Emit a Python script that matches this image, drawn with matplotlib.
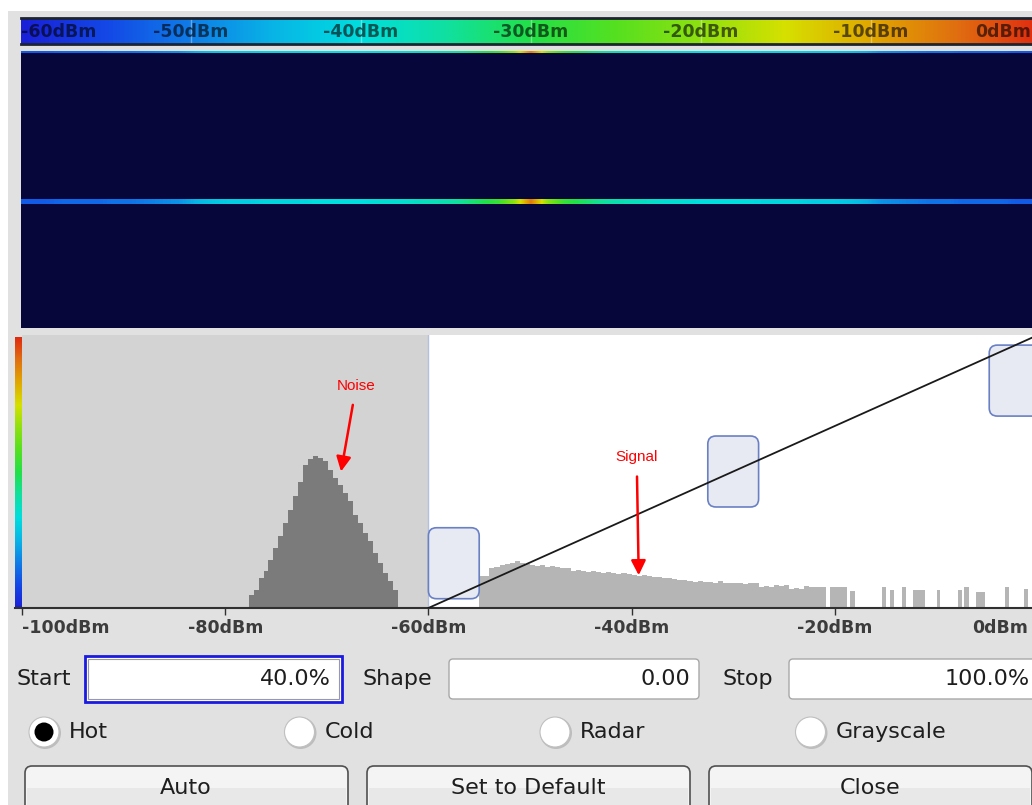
import matplotlib.pyplot as plt
import numpy as np
from matplotlib.colors import LinearSegmentedColormap
from matplotlib.patches import Rectangle, FancyBboxPatch, Circle
from matplotlib.transforms import ScaledTranslation

plt.rcParams['font.family'] = ['DejaVu Sans']

W, H = 1032, 805

# level scale of the colour bar (dBm)
bar_ticks = [-60, -50, -40, -30, -20, -10, 0]
bar_labels = ['-60dBm', '-50dBm', '-40dBm', '-30dBm', '-20dBm', '-10dBm', '0dBm']

# spectrum trace across the span (dBm), written into the spectrogram
trace_dbm = [-53, -53, -52, -52, -52, -51, -51, -50, -49, -48,
             -45, -43, -42, -42, -41, -41, -41, -40, -40, -40,
             -40, -39, -39, -38, -37, -36, -34, -31, -28, -20,
             -6,
             -20, -28, -31, -34, -36, -37, -38, -39, -39, -40,
             -40, -40, -40, -41, -41, -41, -42, -42, -43, -45,
             -48, -49, -50, -51, -51, -52, -52, -52, -53, -53]
trace_rows = [0, 37.5]
n_rows = 69

# level histogram (% of max hits)
noise_start, noise_bin = -77.7, 0.49
noise_hits = [4.8, 6.6, 11.0, 13.6, 17.6, 22.1, 26.5, 31.3, 36.0, 41.2,
              46.0, 52.2, 54.4, 55.5, 55.1, 54.0, 50.7, 47.8, 45.2, 42.3,
              39.3, 34.2, 31.3, 27.6, 24.6, 20.2, 16.5, 12.9, 9.9, 6.6]

signal_start, signal_bin = -55.0, 0.5
signal_hits = [11.8, 11.8, 14.7, 15.1, 15.8, 16.2, 16.5, 17.3, 16.5, 16.2,
               15.8, 15.4, 15.8, 15.1, 15.4, 15.1, 14.7, 14.7, 13.6, 14.0,
               13.6, 13.2, 13.6, 13.2, 12.9, 13.2, 12.9, 12.5, 12.9, 12.5,
               12.1, 11.8, 12.1, 11.8, 11.4, 11.4, 11.0, 11.0, 10.7, 10.3,
               10.3, 9.9, 9.6, 9.9, 9.6, 9.6, 9.2, 9.9, 9.2, 9.2,
               9.2, 9.2, 8.8, 9.2, 9.2, 7.7, 8.1, 7.7, 8.5, 8.1,
               8.5, 7.0, 7.4, 7.0, 8.1]
sparse_lo = [-22.5, -20.5, -18.5, -15.4, -14.6, -13.4, -12.3, -9.9, -7.9, -7.3, -6.1, -3.2, -1.4]
sparse_hi = [-20.9, -18.8, -18.0, -15.0, -14.2, -13.0, -11.1, -9.6, -7.5, -6.8, -5.2, -2.9, -1.0]
sparse_hits = [7.7, 7.7, 6.3, 7.7, 6.6, 7.7, 6.6, 6.6, 6.6, 7.7, 5.9, 7.7, 7.0]

hist_ticks = [-100, -80, -60, -40, -20, 0]
hist_labels = ['-100dBm', '-80dBm', '-60dBm', '-40dBm', '-20dBm', '0dBm']

start_pct, shape_val, stop_pct = 40.0, 0.00, 100.0
schemes = ['Hot', 'Cold', 'Radar', 'Grayscale']
active_scheme = 'Hot'
buttons = ['Auto', 'Set to Default', 'Close']

hot = LinearSegmentedColormap.from_list('rs_hot', [
    '#1a20d8', '#1448e6', '#0f7ee8', '#08b6e6', '#00dede', '#10e0a0',
    '#22e048', '#55e020', '#8ee010', '#d6e000', '#e0a800', '#e07010', '#e02a10'])

fig = plt.figure(figsize=(W / 100, H / 100), dpi=100)
fig.patch.set_facecolor('white')
shift_left = ScaledTranslation(-10 / 100, 0, fig.dpi_scale_trans)


def px_ax(x0, y0, x1, y1):
    return fig.add_axes([x0 / W, 1 - y1 / H, (x1 - x0) / W, (y1 - y0) / H])


# ---- dialog background and widgets ----
ui = px_ax(0, 0, W, H)
ui.set_xlim(0, W)
ui.set_ylim(H, 0)
ui.axis('off')
ui.add_patch(Rectangle((8, 11), W, H, facecolor='#e1e1e1', edgecolor='none'))

txt = dict(fontsize=16, color='#1e1e1e', va='center')
ui.text(16, 679, 'Start', ha='left', **txt)
ui.add_patch(Rectangle((85, 656), 257, 46, facecolor='white', edgecolor='#1a1ae0', lw=2))
ui.add_patch(Rectangle((88, 659), 251, 40, facecolor='none', edgecolor='#9a9a9a', lw=0.8))
ui.text(331, 679, f'{start_pct:.1f}%', ha='right', **txt)

ui.text(363, 679, 'Shape', ha='left', **txt)
ui.add_patch(FancyBboxPatch((449, 659), 250, 40, boxstyle='round,pad=0,rounding_size=4',
                            facecolor='white', edgecolor='#a8a8a8', lw=1))
ui.text(690, 679, f'{shape_val:.2f}', ha='right', **txt)

ui.text(723, 679, 'Stop', ha='left', **txt)
ui.add_patch(FancyBboxPatch((789, 659), 260, 40, boxstyle='round,pad=0,rounding_size=4',
                            facecolor='white', edgecolor='#a8a8a8', lw=1))
ui.text(1030, 679, f'{stop_pct:.1f}%', ha='right', **txt)

for i, name in enumerate(schemes):
    cx = 44 + i * 255.5
    ui.add_patch(Circle((cx + 1, 733), 16, facecolor='#bdbdbd', edgecolor='none'))
    ui.add_patch(Circle((cx, 732), 15, facecolor='white', edgecolor='#c0c0c0', lw=0.8))
    if name == active_scheme:
        ui.add_patch(Circle((cx, 732), 9.5, facecolor='black', edgecolor='none'))
    ui.text(cx + 25, 732, name, ha='left', **txt)

for i, name in enumerate(buttons):
    x0 = 25 + i * 342
    ui.add_patch(FancyBboxPatch((x0, 766), 323, 60, boxstyle='round,pad=0,rounding_size=7',
                                facecolor='#f4f4f4', edgecolor='#505050', lw=1.2))
    ui.add_patch(Rectangle((x0 + 2, 788), 319, 22, facecolor='#e8e8e8', edgecolor='none'))
    ui.text(x0 + 161, 788, name, ha='center', **txt)

# ---- colour bar on top ----
ax_bar = px_ax(21, 18, 1041, 44)
ax_bar.imshow(np.linspace(-60, 0, 512)[None, :], cmap=hot, aspect='auto',
              extent=[-60, 0, 0, 1], vmin=-60, vmax=0)
ax_bar.set_xlim(-60, 0)
ax_bar.set_ylim(0, 1)
ax_bar.set_xticks([])
ax_bar.set_yticks([])
for s in ['left', 'right']:
    ax_bar.spines[s].set_visible(False)
for s in ['top', 'bottom']:
    ax_bar.spines[s].set_color('#1c2430')
    ax_bar.spines[s].set_linewidth(2)
for t, lab in zip(bar_ticks, bar_labels):
    if t not in (bar_ticks[0], bar_ticks[-1]):
        ax_bar.axvline(t, color='white', alpha=0.35, lw=1)
    ha = 'left' if t == bar_ticks[0] else ('right' if t == bar_ticks[-1] else 'center')
    tx = ax_bar.text(t, 0.45, lab, ha=ha, va='center', fontsize=12.5, fontweight='bold',
                     color='black', alpha=0.6)
    if t == bar_ticks[-1]:
        tx.set_transform(tx.get_transform() + shift_left)

# ---- spectrogram ----
ax_spec = px_ax(21, 51, 1041, 328)
ax_spec.set_facecolor('#06063a')
for r in trace_rows:
    ax_spec.imshow(np.array(trace_dbm)[None, :], cmap=hot, vmin=-60, vmax=0,
                   aspect='auto', interpolation='bilinear',
                   extent=[-0.5, len(trace_dbm) - 0.5, r + 0.5, r - 0.5])
ax_spec.set_xlim(-0.5, len(trace_dbm) - 0.5)
ax_spec.set_ylim(n_rows, 0)
ax_spec.set_xticks([])
ax_spec.set_yticks([])
for s in ax_spec.spines.values():
    s.set_visible(False)

# ---- vertical colour scale ----
ax_cb = px_ax(15, 337, 22, 608)
ax_cb.imshow(np.linspace(0, 1, 256)[:, None], cmap=hot, aspect='auto', origin='lower',
             extent=[0, 1, 0, 1])
ax_cb.set_xticks([])
ax_cb.set_yticks([])
for s in ['top', 'left', 'right']:
    ax_cb.spines[s].set_visible(False)
ax_cb.spines['bottom'].set_color('#303030')
ax_cb.spines['bottom'].set_linewidth(1.5)

# ---- level histogram ----
start_dbm = hist_ticks[0] + start_pct
stop_dbm = hist_ticks[0] + stop_pct
mid_dbm = (start_dbm + stop_dbm) / 2

ax = px_ax(22, 335, 1038, 608)
ax.set_xlim(hist_ticks[0], hist_ticks[-1])
ax.set_ylim(0, 100)
ax.set_facecolor('white')
ax.axvspan(hist_ticks[0], start_dbm, color='#d3d3d3', lw=0, zorder=0)
ax.axvline(start_dbm, color='#b4c0de', lw=1, zorder=1)

noise_left = noise_start + noise_bin * np.arange(len(noise_hits))
ax.bar(noise_left, noise_hits, width=noise_bin, align='edge', color='#7b7b7b', lw=0, zorder=2)
signal_left = signal_start + signal_bin * np.arange(len(signal_hits))
ax.bar(signal_left, signal_hits, width=signal_bin, align='edge', color='#b5b5b5', lw=0, zorder=2)
ax.bar(sparse_lo, sparse_hits, width=np.array(sparse_hi) - np.array(sparse_lo), align='edge',
       color='#b5b5b5', lw=0, zorder=2)

# curve handles
for cx, cy in [(start_dbm + 2.5, 16.4), (mid_dbm, 50.0), (stop_dbm - 2.3, 83.3)]:
    ax.add_patch(FancyBboxPatch((cx - 2.5, cy - 13), 5.0, 26,
                                boxstyle='round,pad=0,rounding_size=0.8', mutation_aspect=3.7,
                                facecolor='#e7eaf3', edgecolor='#6a80c4', lw=1.2, zorder=3,
                                clip_on=False))
ax.plot([start_dbm, stop_dbm], [0, 100], color='#1a1a1a', lw=1.3, zorder=4)

arrow = dict(arrowstyle='-|>', color='red', lw=1.8, mutation_scale=22, shrinkA=7, shrinkB=0)
ax.annotate('Noise', xy=(-68.6, 50), xytext=(-67.1, 81.5), ha='center', va='center',
            color='red', fontsize=11, family='Liberation Sans', zorder=5, arrowprops=arrow)
ax.annotate('Signal', xy=(-39.3, 12.0), xytext=(-39.5, 55.3), ha='center', va='center',
            color='red', fontsize=11, family='Liberation Sans', zorder=5, arrowprops=arrow)

for s in ['top', 'left', 'right']:
    ax.spines[s].set_visible(False)
ax.spines['bottom'].set_color('#303030')
ax.spines['bottom'].set_linewidth(1.5)
ax.set_yticks([])
ax.set_xticks(hist_ticks, hist_labels)
ax.tick_params(axis='x', length=5, width=1, color='#303030', pad=3, labelsize=12.5,
               labelcolor='#3c3c3c')
labels = ax.get_xticklabels()
for lab in labels:
    lab.set_fontweight('bold')
labels[0].set_ha('left')
labels[-1].set_ha('right')
labels[-1].set_transform(labels[-1].get_transform() + shift_left)

plt.savefig('out.png', dpi=100)
